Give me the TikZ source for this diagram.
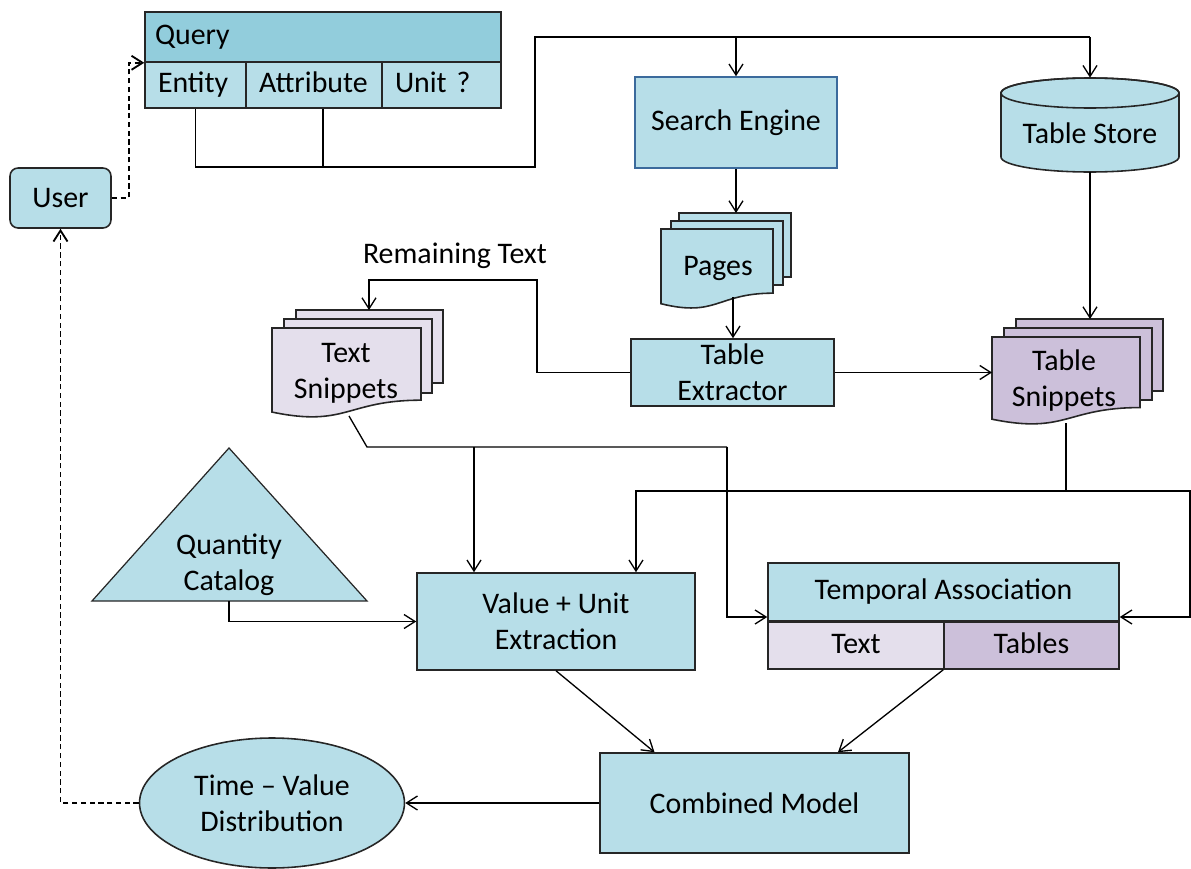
\documentclass[tikz,border=0pt]{standalone}
\usepackage{fontspec}
\setmainfont{Carlito}
\usetikzlibrary{arrows.meta,shapes.geometric,calc}
\definecolor{boxblue}{HTML}{B7DEE8}
\definecolor{headblue}{HTML}{92CDDC}
\definecolor{lilac}{HTML}{E4DFEC}
\definecolor{mauve}{HTML}{CCC0DA}
\definecolor{edgeblue}{HTML}{3B6A9C}

% a page with a wavy lower edge: left, right, top, height, fill
\newcommand\docsheet[5]{%
  \filldraw[sheetline, fill=#5] (#1,#3) -- (#2,#3) -- (#2,{#3+0.802*#4})
    .. controls ({(#1+#2)/2},{#3+0.802*#4}) and ({(#1+#2)/2},{#3+1.107*#4}) ..
    (#1,{#3+0.934*#4}) -- cycle;}

\begin{document}
\begin{tikzpicture}[x=0.02cm, y=-0.02cm,
  font=\fontsize{17}{20.5}\selectfont,
  box/.style={draw=black!85, line width=0.9pt, fill=boxblue, inner sep=1pt, align=center},
  cell/.style={box, minimum height=0.92cm, inner xsep=0.26cm, align=left,
    text height=2.2ex, text depth=0.4ex},
  sheetline/.style={draw=black!85, line width=0.9pt},
  wire/.style={line width=0.75pt, draw=black},
  arr/.style={wire, -{Straight Barb[length=2.2mm,width=2.8mm]}},
  dashwire/.style={line width=1.05pt, draw=black, dash pattern=on 3pt off 2pt,
    -{Straight Barb[length=2.2mm,width=2.8mm]}},
  lbl/.style={inner sep=0pt, align=center}]

\useasboundingbox (0,0) rectangle (1191,869);

% ---- query record ----
\node[box, fill=headblue, minimum width=7.12cm, minimum height=1cm,
      text width=6.72cm, inner xsep=0.2cm, align=left] (qhead) at (323,37) {Query};
\node[cell, minimum width=2.02cm, text width=1.5cm] (qent) at (195.5,85) {Entity};
\node[cell, minimum width=2.72cm, text width=2.2cm] (qatt) at (314,85) {Attribute};
\node[cell, minimum width=2.38cm, text width=1.86cm] (qunit) at (441.5,85) {Unit ?};

% ---- user ----
\node[box, rounded corners=0.16cm, minimum width=2.02cm, minimum height=1.2cm] (user) at (60.5,198) {User};

% ---- search engine and table store ----
\node[box, draw=edgeblue, minimum width=4.04cm, minimum height=1.82cm] (search) at (736,122.5) {Search Engine};

\filldraw[sheetline, fill=boxblue] (1001,93) -- (1001,157)
  arc[start angle=180, end angle=360, x radius=1.78cm, y radius=0.3cm] -- (1179,93)
  arc[start angle=0, end angle=180, x radius=1.78cm, y radius=0.3cm] -- cycle;
\draw[sheetline] (1090,93) ellipse[x radius=1.78cm, y radius=0.3cm];
\node[inner sep=0pt, minimum width=3.56cm, minimum height=1.88cm] (store) at (1090,125) {};
\node[lbl] (storetext) at (1090,133) {Table Store};

% ---- pages stack ----
\filldraw[sheetline, fill=boxblue] (679,213) rectangle (791,277);
\filldraw[sheetline, fill=boxblue] (671,221) rectangle (783,285);
\docsheet{661}{773}{229}{80}{boxblue}
\node[lbl] (pages) at (718,268) {Pages};
\coordinate (pagestop) at (736,213);
\coordinate (pagesbot) at (733,297);

% ---- table extractor ----
\node[box, minimum width=4.06cm, minimum height=1.34cm] (extract) at (732.5,372.5) {Table\\Extractor};

% ---- text snippets stack ----
\filldraw[sheetline, fill=lilac] (296,310) rectangle (443,383);
\filldraw[sheetline, fill=lilac] (284,319) rectangle (432,393);
\docsheet{272}{421}{328}{90}{lilac}
\node[lbl] (textsn) at (346,373) {Text\\Snippets};
\coordinate (textstop) at (369,310);
\coordinate (textbot) at (349,416);

% ---- table snippets stack ----
\filldraw[sheetline, fill=mauve] (1016,319) rectangle (1163,391);
\filldraw[sheetline, fill=mauve] (1004,328) rectangle (1152,400);
\docsheet{992}{1140}{337}{88}{mauve}
\node[lbl] (tabsn) at (1064,381) {Table\\Snippets};
\coordinate (tabstop) at (1090,319);
\coordinate (tabsin) at (992,372.5);
\coordinate (tabsbot) at (1066,423);

% ---- quantity catalog ----
\filldraw[sheetline, line width=0.7pt, fill=boxblue] (92,601) -- (229,448) -- (367,601) -- cycle;
\node[lbl] (catalog) at (229,565) {Quantity\\Catalog};
\coordinate (catbase) at (229,601);

% ---- value + unit extraction ----
\node[box, minimum width=5.56cm, minimum height=1.94cm] (vu) at (556,621.5) {Value + Unit\\Extraction};

% ---- temporal association ----
\node[box, minimum width=7.02cm, minimum height=1.16cm] (temph) at (943.5,592) {Temporal Association};
\node[box, fill=lilac, minimum width=3.52cm, minimum height=0.94cm,
      text height=2.2ex, text depth=0.4ex] (ttext) at (856,645.5) {Text};
\node[box, fill=mauve, minimum width=3.5cm, minimum height=0.94cm,
      text height=2.2ex, text depth=0.4ex] (ttab) at (1031.5,645.5) {Tables};

% ---- combined model and result ----
\node[box, minimum width=6.18cm, minimum height=2cm] (comb) at (754.5,803) {Combined Model};
\node[box, ellipse, inner sep=0pt, minimum width=5.3cm, minimum height=2.6cm] (tvd) at (272,803) {Time \textendash{} Value\\Distribution};

% ---- connectors ----
\coordinate (qbus) at (535,37);
\coordinate (qjoin) at (535,167);
\draw[wire] (qent.south) |- (qjoin) -- (qbus) -- (qbus -| store.north);
\draw[wire] ([xshift=0.18cm]qatt.south) -- ([xshift=0.18cm]qatt.south |- qjoin);
\draw[arr] (search.north |- qbus) -- (search.north);
\draw[arr] (store.north |- qbus) -- (store.north);

\draw[dashwire] (user.east) -- ++(17,0) |- (qhead.south west);
\draw[dashwire] (tvd.west) -| (user.south);

\draw[arr] (search.south) -- (pagestop);
\draw[arr] (pagesbot) -- (pagesbot |- extract.north);

\coordinate (remain) at (537,280);
\draw[arr] (extract.west) -| (remain) -| (textstop);
\node[lbl] (remlabel) at (455,256) {Remaining Text};

\draw[arr] (extract.east) -- (tabsin);
\draw[arr] (store.south) -- (tabstop);

\coordinate (tbus) at (367,447);
\coordinate (tdrop) at (727,447);
\coordinate (vin1) at (474,447);
\draw[wire] (textbot) -- (tbus) -- (tdrop);
\draw[arr] (tdrop) |- ([yshift=-0.5cm]temph.west);
\draw[arr] (vin1) -- (vin1 |- vu.north);

\coordinate (tbus2) at (1066,491);
\coordinate (rbus) at (1190,491);
\draw[wire] (tabsbot) -- (tbus2);
\draw[arr] (tbus2) -| ([xshift=1.6cm]vu.north);
\draw[arr] (tbus2) -- (rbus) |- ([yshift=-0.5cm]temph.east);

\draw[arr] (catbase) |- (vu.west);

\draw[arr] (vu.south) -- ([xshift=-2cm]comb.north);
\draw[arr] (ttab.south west) -- ([xshift=1.67cm]comb.north);
\draw[arr] (comb.west) -- (tvd.east);
\end{tikzpicture}
\end{document}
